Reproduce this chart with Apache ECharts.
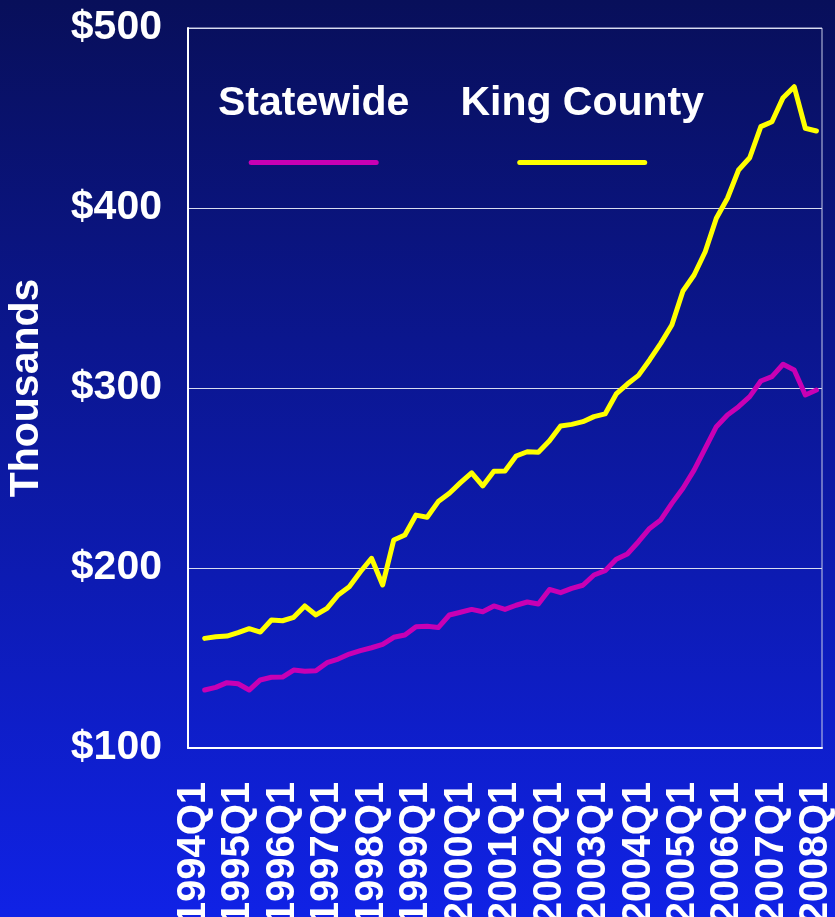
<!DOCTYPE html>
<html>
<head>
<meta charset="utf-8">
<title>Median home price</title>
<script src="https://cdn.jsdelivr.net/npm/echarts@6/dist/echarts.min.js"></script>
<style>
  html, body {
    margin: 0;
    padding: 0;
  }
  #chart {
    width: 835px;
    height: 917px;
  }
</style>
</head>
<body>
<div id="chart"></div>
<script>
const years = [1994, 1995, 1996, 1997, 1998, 1999, 2000, 2001, 2002, 2003, 2004, 2005, 2006, 2007, 2008]
const quarters = []
years.forEach((year) => {
  for (let q = 1; q <= 4; q++) {
    if (year === 2008 && q > 1) break
    quarters.push(year + 'Q' + q)
  }
})

// thousands of dollars, first quarter has no reading
const statewide = [
  null, 132.2, 133.7, 136.3, 135.7, 132.2, 137.8, 139.3, 139.4, 143.3, 142.6, 142.9, 147.4, 149.4, 152.2, 154.1,
  155.7, 157.6, 161.5, 162.8, 167.4, 167.6, 166.9, 173.9, 175.4, 177, 175.7, 178.9, 177, 179.3,
  181.1, 180, 188.1, 186.3, 188.7, 190.4, 196.1, 198.5, 204.8, 207.8, 214.6, 222, 226.7, 235.9,
  244.3, 254.4, 266.5, 278.5, 285, 289.6, 295.2, 303.9, 306.3, 313.2, 310, 296.1, 298.9,
]
const kingCounty = [
  null, 160.9, 161.8, 162.2, 164.1, 166.3, 164.4, 171.1, 170.7, 172.6, 178.9, 173.9, 177.6, 185, 189.6, 197.9,
  205.4, 190.6, 215.6, 218.3, 229.4, 228.2, 236.9, 241.5, 247.4, 252.9, 245.6, 253.7, 253.9, 262.2,
  264.6, 264.3, 270.7, 278.9, 279.8, 281.3, 284.1, 285.6, 296.7, 302.2, 307, 315.6, 324.8, 335,
  353.9, 362.8, 375.7, 394.3, 405.4, 421.1, 427.9, 445.2, 447.9, 461.3, 467.4, 444.3, 442.8,
]

const font = '"Liberation Sans", Arial, sans-serif'
const magenta = '#c800b4'
const yellow = '#ffff00'

const chart = echarts.init(document.getElementById('chart'))

chart.setOption({
  backgroundColor: {
    type: 'linear',
    x: 0, y: 0, x2: 0, y2: 1,
    colorStops: [
      { offset: 0, color: '#080f5a' },
      { offset: 1, color: '#1022e6' },
    ],
  },
  animation: false,
  textStyle: {
    fontFamily: font,
  },
  grid: {
    left: 188,
    right: 13,
    top: 28,
    bottom: 169,
    outerBoundsMode: 'none',
    containLabel: false,
    show: true,
    borderColor: '#c8cce8',
    borderWidth: 1,
  },
  legend: {
    left: 208,
    top: 78,
    icon: 'none',
    itemWidth: 0,
    itemGap: 46,
    selectedMode: false,
    data: ['Statewide', 'King County'],
    formatter: (name) => name === 'Statewide' ? '{t|Statewide}\n{a|}' : '{t|King County}\n{b|}',
    textStyle: {
      rich: {
        t: {
          fontSize: 41,
          fontWeight: 'bold',
          fontFamily: font,
          color: '#ffffff',
          lineHeight: 46,
          align: 'center',
        },
        a: {
          width: 130,
          height: 5,
          lineHeight: 72,
          borderRadius: 3,
          backgroundColor: magenta,
          align: 'center',
        },
        b: {
          width: 130,
          height: 5,
          lineHeight: 72,
          borderRadius: 3,
          backgroundColor: yellow,
          align: 'center',
        },
      },
    },
  },
  xAxis: {
    type: 'category',
    boundaryGap: true,
    data: quarters,
    axisLine: {
      lineStyle: { color: '#ffffff', width: 2 },
    },
    axisTick: { show: false },
    axisLabel: {
      interval: 3,
      rotate: 90,
      margin: 34,
      color: '#ffffff',
      fontSize: 40,
      fontWeight: 'bold',
      fontFamily: font,
    },
  },
  yAxis: {
    type: 'value',
    min: 100,
    max: 500,
    interval: 100,
    name: 'Thousands',
    nameLocation: 'middle',
    nameGap: 141,
    nameTextStyle: {
      color: '#ffffff',
      fontSize: 41,
      fontWeight: 'bold',
      fontFamily: font,
    },
    axisLine: {
      show: true,
      lineStyle: { color: '#ffffff', width: 2 },
    },
    axisTick: { show: false },
    axisLabel: {
      margin: 26,
      color: '#ffffff',
      fontSize: 41,
      fontWeight: 'bold',
      fontFamily: font,
      formatter: '${value}',
    },
    splitLine: {
      lineStyle: { color: '#d8dcf0', width: 1 },
    },
  },
  series: [
    {
      name: 'Statewide',
      type: 'line',
      data: statewide,
      symbol: 'none',
      color: magenta,
      lineStyle: { color: magenta, width: 5, cap: 'round', join: 'round' },
    },
    {
      name: 'King County',
      type: 'line',
      data: kingCounty,
      symbol: 'none',
      color: yellow,
      lineStyle: { color: yellow, width: 5, cap: 'round', join: 'round' },
    },
  ],
})

window.addEventListener('resize', () => {
  chart.resize()
})
</script>
</body>
</html>
